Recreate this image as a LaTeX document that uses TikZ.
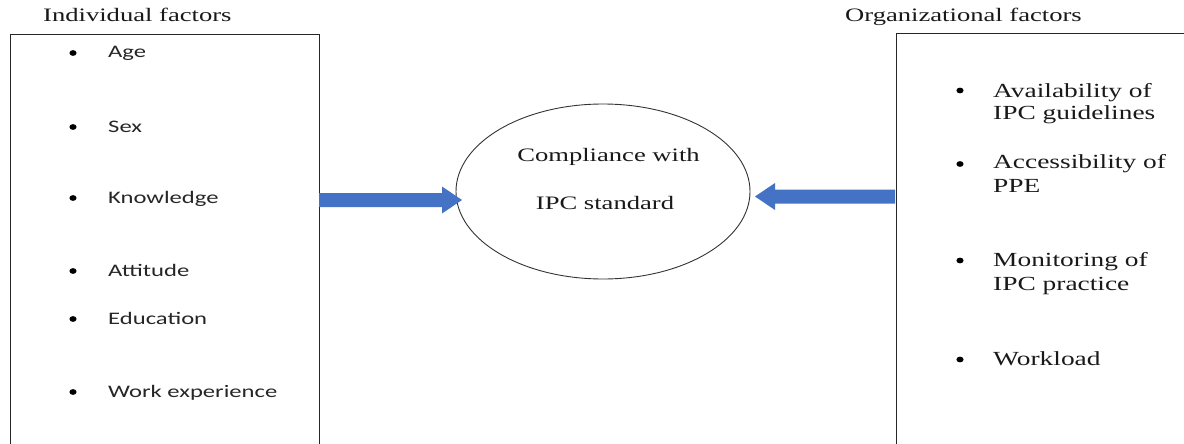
\documentclass[tikz,border=0pt]{standalone}
\usepackage{fontspec}
\setmainfont{Liberation Serif}
\newfontfamily\calib{Carlito}
\newfontfamily\lserif{Liberation Serif}
\usetikzlibrary{shapes.geometric}
\definecolor{arrowblue}{HTML}{4472C4}
\newcommand\sx[1]{\scalebox{1.4}[1]{#1}}
\newcommand\sxr[1]{\scalebox{1.37}[1]{#1}}
\tikzset{
  boxline/.style={draw=black!85, line width=1pt},
  serifbox/.style={font=\lserif\fontsize{19}{23}\selectfont, text=black!90, inner sep=0pt},
  itembox/.style={font=\lserif\fontsize{20}{23}\selectfont, text=black!90, inner sep=0pt},
  sansbox/.style={font=\calib\fontsize{17.6}{21}\selectfont, text=black!85, inner sep=0pt},
  bul/.style={fill=black, draw=none},
  blockarrow/.style={fill=arrowblue, draw=none},
}
\begin{document}
\begin{tikzpicture}[x=1pt,y=-1pt]
\useasboundingbox (0,0) rectangle (1184,444);
% boxes
\coordinate (lbl) at (10,445);
\coordinate (ltl) at (10,34.5);
\coordinate (ltr) at (319,34.5);
\coordinate (lbr) at (319,445);
\draw[boxline] (lbl) -- (ltl) -- (ltr) -- (lbr);
\coordinate (rtr) at (1185,34);
\coordinate (rtl) at (896,34);
\coordinate (rbl) at (896,445);
\draw[boxline] (rtr) -- (rtl) -- (rbl);
% titles
\node[serifbox, anchor=base west] (tleft) at (43,22) {\sx{Individual factors}};
\node[serifbox, anchor=base west] (tright) at (845,21.5) {\sx{Organizational factors}};
% left items
\foreach \n/\yb/\txt in {a/58/Age, b/132/Sex, c/203/Knowledge, d/276/Attitude, e/324/Education, f/397/Work experience}{
  \fill[bul] (73,\yb-5) ellipse [x radius=3.6, y radius=2.9];
  \node[sansbox, anchor=base west] (l\n) at (108,\yb) {\sx{\txt}};
}
% right items
\node[itembox, anchor=base west] (ra1) at (993,97) {\sxr{Availability of}};
\node[itembox, anchor=base west] (ra2) at (993,120) {\sxr{IPC guidelines}};
\node[itembox, anchor=base west] (rb1) at (993,168) {\sxr{Accessibility of}};
\node[itembox, anchor=base west] (rb2) at (993,192) {\sxr{PPE}};
\node[itembox, anchor=base west] (rc1) at (993,266.5) {\sxr{Monitoring of}};
\node[itembox, anchor=base west] (rc2) at (993,290) {\sxr{IPC practice}};
\node[itembox, anchor=base west] (rd1) at (993,365) {\sxr{Workload}};
\foreach \y in {90.5,164,260.5,359.5}{
  \fill[bul] (960,\y) ellipse [x radius=3.6, y radius=2.9];
}
% central ellipse
\node[ellipse, draw=black!80, line width=0.9pt, minimum width=294pt, minimum height=175pt, inner sep=0pt] (circ) at (603,191.5) {};
\node[serifbox, anchor=base] (c1) at (608.5,161.5) {\sx{Compliance with}};
\node[serifbox, anchor=base] (c2) at (605,209) {\sx{IPC standard}};
% left block arrow
\coordinate (la) at (319,200);
\coordinate (lt) at (462,200);
\fill[blockarrow] (la) ++(0,-7) -- ++(123,0) -- ++(0,-6.5) -- (lt) -- ++(-20,13.5) -- ++(0,-6.5) -- ++(-123,0) -- cycle;
% right block arrow
\coordinate (ra) at (895,196.5);
\coordinate (rt) at (755,196.5);
\fill[blockarrow] (ra) ++(0,-7) -- ++(-120,0) -- ++(0,-6.5) -- (rt) -- ++(20,13.5) -- ++(0,-6.5) -- ++(120,0) -- cycle;
\end{tikzpicture}
\end{document}
